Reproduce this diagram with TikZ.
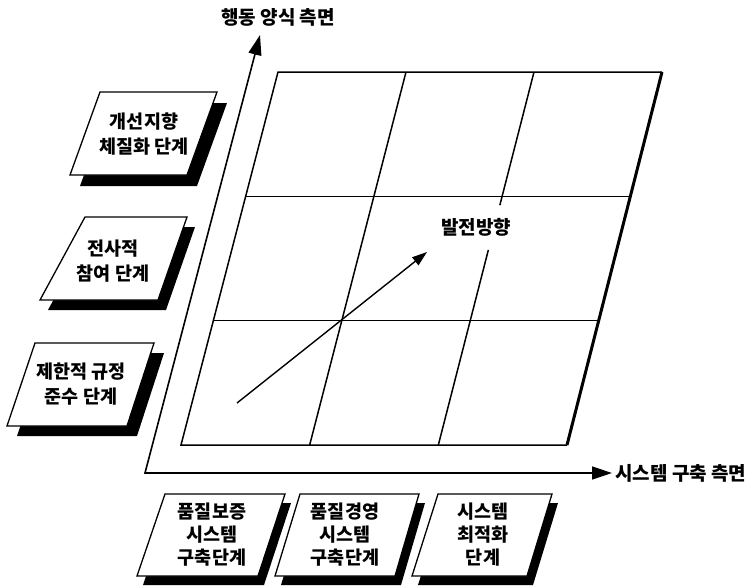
\documentclass[tikz,border=0pt]{standalone}
\usepackage{fontspec}
\setmainfont{Noto Sans CJK KR}
\usetikzlibrary{arrows.meta,calc}
\newcommand\stagecard[5]{%
  \fill[shift={#5}] #1 -- #2 -- #3 -- #4 -- cycle;
  \filldraw[card] #1 -- #2 -- #3 -- #4 -- cycle;}
\begin{document}
\begin{tikzpicture}[x=1pt,y=-1pt,line join=miter]
\tikzset{
  card/.style={draw=black,fill=white,line width=1.3pt},
  lbl/.style={font=\bfseries\fontsize{18.5}{24.5}\selectfont,align=center,inner sep=0pt},
  lblb/.style={font=\bfseries\fontsize{18.5}{23}\selectfont,align=center,inner sep=0pt},
  axl/.style={font=\bfseries\fontsize{19}{22}\selectfont,inner sep=0pt},
  gridline/.style={line width=1.5pt},
  axis/.style={line width=1.6pt,{Triangle[length=20pt,width=13pt]}-{Triangle[length=20pt,width=13pt]}},
  devarrow/.style={line width=1.4pt,-{Triangle[length=15pt,width=10pt]}}
}
\useasboundingbox[fill=white] (0,0) rectangle (746,586);
% axes
\coordinate (O) at (145,473);
\coordinate (Yt) at (260,35);
\coordinate (Xt) at (612,473);
\draw[axis] (Yt) -- (O) -- (Xt);
\node[axl] (ylab) at (278,17) {행동 양식 측면};
\node[axl,anchor=west] (xlab) at (615,473) {시스템 구축 측면};
% grid
\coordinate (TL) at (278,72);
\coordinate (TR) at (662,72);
\coordinate (BR) at (567,445);
\coordinate (BL) at (181,445);
\draw[gridline] (TR) -- (TL) -- (BL) -- (BR);
\draw[line width=3pt] (TR) -- (BR);
\draw[gridline] ($(TL)!1/3!(BL)$) -- ($(TR)!1/3!(BR)$);
\draw[gridline] ($(TL)!2/3!(BL)$) -- ($(TR)!2/3!(BR)$);
\coordinate (v1t) at ($(TL)!1/3!(TR)$);
\coordinate (v1b) at ($(BL)!1/3!(BR)$);
\coordinate (v2t) at ($(TL)!2/3!(TR)$);
\coordinate (v2b) at ($(BL)!2/3!(BR)$);
\draw[gridline] (v1t) -- (v1b);
\draw[gridline] (v2t) -- ($(v2t)!0.357!(v2b)$);
\draw[gridline] ($(v2t)!0.477!(v2b)$) -- (v2b);
\node[axl] (dir) at (476,227) {발전방향};
\coordinate (d0) at (237,403);
\coordinate (d1) at (427,252);
\draw[devarrow] (d0) -- (d1);
% left stage cards
\stagecard{(100,92)}{(217,92)}{(187,175)}{(70,175)}{(10,11)}
\node[lbl] (s1) at (144,134) {개선지향\\체질화 단계};
\stagecard{(85,217)}{(187,217)}{(158,300)}{(40,300)}{(8,10)}
\node[lbl] (s2) at (113,261) {전사적\\참여 단계};
\stagecard{(35,343)}{(154,343)}{(127,426)}{(7,426)}{(10,10)}
\node[lbl] (s3) at (81,384) {제한적 규정\\준수 단계};
% bottom stage cards
\stagecard{(165,494)}{(285,494)}{(258,576)}{(137,576)}{(6,9)}
\node[lblb] (b1) at (212,535) {품질보증\\시스템\\구축단계};
\stagecard{(300,494)}{(419,494)}{(395,576)}{(275,576)}{(6,9)}
\node[lblb] (b2) at (345,535) {품질경영\\시스템\\구축단계};
\stagecard{(438,494)}{(552,494)}{(527,576)}{(412,576)}{(6,9)}
\node[lblb] (b3) at (483,535) {시스템\\최적화\\단계};
\end{tikzpicture}
\end{document}
